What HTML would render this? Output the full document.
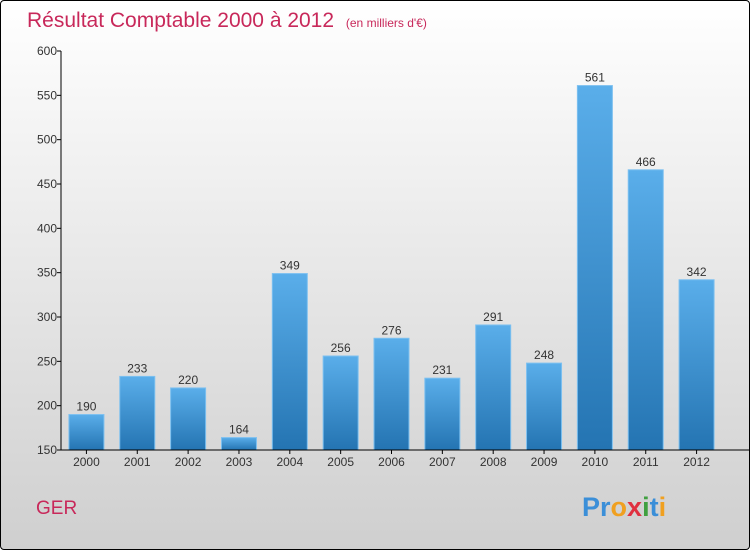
<!DOCTYPE html>
<html><head><meta charset="utf-8"><style>
body{margin:0;width:750px;height:550px;overflow:hidden;font-family:"Liberation Sans",sans-serif}
#wrap{position:absolute;left:0;top:0;width:748px;height:548px;border:1px solid #000;border-radius:4px;background:linear-gradient(#ffffff,#cfcfcf)}
</style></head><body>
<div id="wrap">
<svg id="chart" width="750" height="550" style="position:absolute;left:-1px;top:-1px">
<defs><linearGradient id="bg" x1="0" y1="0" x2="0" y2="1"><stop offset="0" stop-color="#5aaeea"/><stop offset="1" stop-color="#2474b2"/></linearGradient></defs>
<text x="27" y="27" font-size="21" fill="#c8285a">Résultat Comptable 2000 à 2012 <tspan font-size="12" dx="6">(en milliers d'€)</tspan></text>
<text x="36" y="514" font-size="19" fill="#c8285a">GER</text>
<text x="582" y="516" font-size="27" font-weight="bold" fill="#2a8ad0"><tspan fill="#3b8fd8">Pr</tspan><tspan fill="#f0a020">o</tspan><tspan fill="#e03040">x</tspan><tspan fill="#40a040">i</tspan><tspan fill="#3b8fd8">t</tspan><tspan fill="#f0a020">i</tspan></text>
<g id="plot"></g>
</svg>
</div>
<script>
const categories=["2000","2001","2002","2003","2004","2005","2006","2007","2008","2009","2010","2011","2012"];
const values=[190,233,220,164,349,256,276,231,291,248,561,466,342];
const yTicks=[150,200,250,300,350,400,450,500,550,600];
const ns="http://www.w3.org/2000/svg";
const g=document.getElementById("plot");
const x0=61,x1=722,yTop=51,yBot=450,vMin=150,vMax=600;
const slot=(x1-x0)/categories.length;
function y(v){return yBot-(v-vMin)/(vMax-vMin)*(yBot-yTop);}
function xc(i){return x0+slot*(i+0.5);}
function mk(t,a){const e=document.createElementNS(ns,t);for(const k in a)e.setAttribute(k,a[k]);g.appendChild(e);return e;}
yTicks.forEach(v=>{
  const l=mk("line",{x1:x0-4,x2:x0,y1:y(v),y2:y(v),stroke:"#000"});
  
  
  const t=mk("text",{x:x0-4,y:y(v)+4,"text-anchor":"end","font-size":"12",fill:"#333"});
  t.textContent=v;
  
  
});
categories.forEach((c,i)=>{
  const bw=35,cx=xc(i);
  const r=mk("rect",{x:cx-bw/2,y:y(values[i]),width:bw,height:yBot-y(values[i]),fill:"url(#bg)",stroke:"#7cc0f0","stroke-width":"1"});
  
  
  const v=mk("text",{x:cx,y:y(values[i])-4,"text-anchor":"middle","font-size":"12",fill:"#333"});
  v.textContent=values[i];
  
  
  const tk=mk("line",{x1:cx,x2:cx,y1:yBot,y2:yBot+4,stroke:"#000"});
  
  
  const t=mk("text",{x:cx,y:yBot+16,"text-anchor":"middle","font-size":"12",fill:"#333"});
  t.textContent=c;
  
  
});
const ya=mk("line",{x1:x0,x2:x0,y1:yTop,y2:yBot,stroke:"#000"});


const xa=mk("line",{x1:x0,x2:x1+28,y1:yBot,y2:yBot,stroke:"#000"});


</script>
</body></html>
